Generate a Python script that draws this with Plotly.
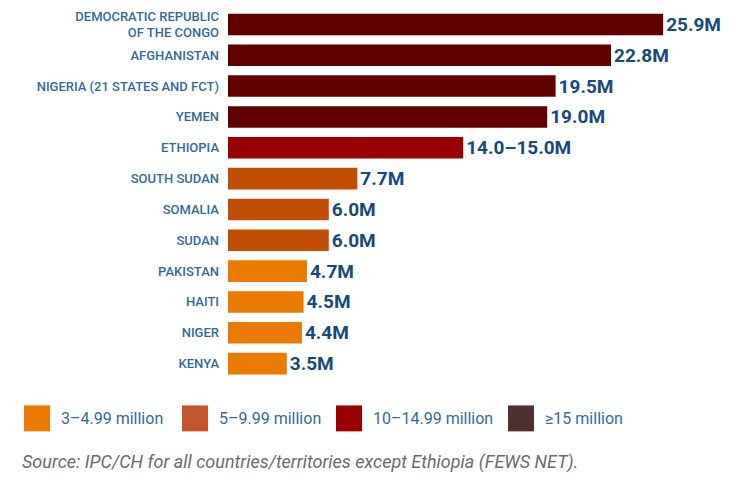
import plotly.graph_objects as go

# ---- data ----
countries = [
    "DEMOCRATIC REPUBLIC<br>OF THE CONGO", "AFGHANISTAN", "NIGERIA (21 STATES AND FCT)",
    "YEMEN", "ETHIOPIA", "SOUTH SUDAN", "SOMALIA", "SUDAN", "PAKISTAN", "HAITI",
    "NIGER", "KENYA",
]
values = [25.9, 22.8, 19.5, 19.0, 14.0, 7.7, 6.0, 6.0, 4.7, 4.5, 4.4, 3.5]
value_labels = ["25.9M", "22.8M", "19.5M", "19.0M", "14.0–15.0M", "7.7M", "6.0M",
                "6.0M", "4.7M", "4.5M", "4.4M", "3.5M"]
legend_labels = ["3–4.99 million", "5–9.99 million", "10–14.99 million", "≥15 million"]
legend_thresholds = [3, 5, 10, 15]
source_text = "Source: IPC/CH for all countries/territories except Ethiopia (FEWS NET)."

# ---- styles ----
bar_colors = ["#ea7a00", "#c24e05", "#9a0000", "#600000"]
legend_colors = ["#ea7a00", "#c4552b", "#9a0000", "#4f2f30"]
label_blue = "#336b96"
value_blue = "#164a78"

W, H = 756, 483
ML, MR, MT, MB = 228, 24, 8.5, 103.5
PW, PH = W - ML - MR, H - MT - MB


def group_of(v):
    g = 0
    for i, t in enumerate(legend_thresholds):
        if v >= t:
            g = i
    return g


colors = [bar_colors[group_of(v)] for v in values]

fig = go.Figure()
fig.add_trace(go.Bar(
    y=countries, x=values, orientation="h",
    marker=dict(color=colors, line=dict(width=0)),
    text=value_labels, textposition="outside", constraintext="none",
    textfont=dict(family="Roboto", size=19, color=value_blue, weight="bold"),
    cliponaxis=False, hoverinfo="skip", showlegend=False,
))


def px_x(p):
    return (p - ML) / PW


def px_y(p):
    return 1 - (p - MT) / PH


# custom legend (big squares)
legend_sq_x = [24, 182, 336, 508]
sq_size = 26
leg_cy = 419
for lx, lab, col in zip(legend_sq_x, legend_labels, legend_colors):
    fig.add_shape(type="rect", xref="paper", yref="paper",
                  x0=px_x(lx), x1=px_x(lx + sq_size),
                  y0=px_y(leg_cy + sq_size / 2), y1=px_y(leg_cy - sq_size / 2),
                  fillcolor=col, line=dict(width=0))
    fig.add_annotation(xref="paper", yref="paper", x=px_x(lx + sq_size + 9), y=px_y(leg_cy),
                       text=lab, showarrow=False, xanchor="left", yanchor="middle",
                       font=dict(family="Roboto", size=16, color=label_blue))

fig.add_annotation(xref="paper", yref="paper", x=px_x(20), y=px_y(463),
                   text="<i>" + source_text + "</i>", showarrow=False,
                   xanchor="left", yanchor="middle",
                   font=dict(family="Roboto", size=18, color="#6b6b6b"))

fig.update_layout(
    width=W, height=H, autosize=False,
    margin=dict(l=ML, r=MR, t=MT, b=MB, pad=0),
    paper_bgcolor="white", plot_bgcolor="white",
    bargap=0.3,
    xaxis=dict(visible=False, range=[0, 30], fixedrange=True),
    yaxis=dict(type="category", autorange="reversed", showgrid=False, showline=False,
               zeroline=False, ticks="", ticklabelstandoff=8, fixedrange=True,
               tickfont=dict(family="Roboto", size=13, color=label_blue, weight=500)),
)

fig.write_html("out.html", config={"displayModeBar": False},
               post_script="document.body.style.margin='0px';")
